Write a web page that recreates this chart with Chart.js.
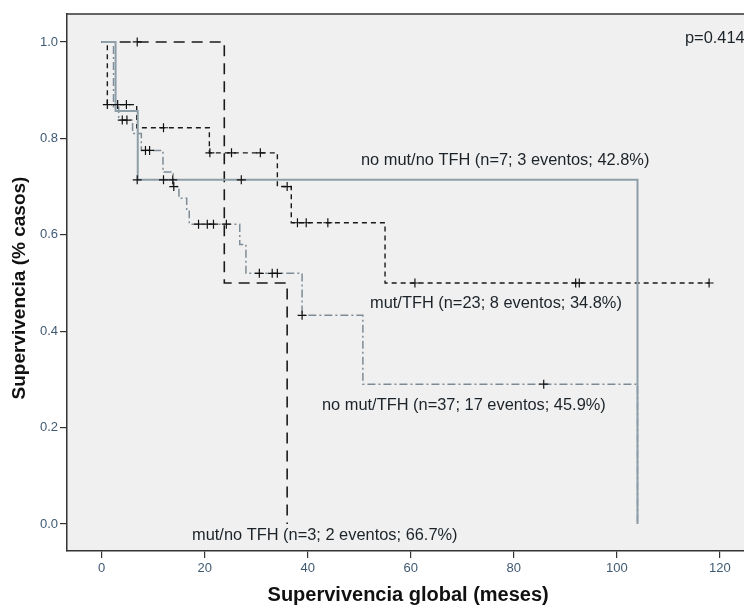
<!DOCTYPE html>
<html>
<head>
<meta charset="utf-8">
<script src="https://cdn.jsdelivr.net/npm/chart.js@4.4.0/dist/chart.umd.min.js"></script>
<style>
  html, body { margin: 0; padding: 0; background: #fff; overflow: hidden; }
  #wrap { width: 744px; height: 608px; overflow: hidden; }
</style>
</head>
<body>
<div id="wrap"><canvas id="km" width="755" height="608"></canvas></div>
<script>
// ticks
var xTicks = [0, 20, 40, 60, 80, 100, 120];
var yTicks = [0, 0.2, 0.4, 0.6, 0.8, 1.0];

// no mut/no TFH (linea continua)
var nmntT = [0, 2.7, 7, 104];
var nmntS = [1, 0.857, 0.714, 0];
var nmntCensT = [6.9, 12, 13.8, 27.1];
var nmntCensS = [0.714, 0.714, 0.714, 0.714];

// mut/no TFH (guion largo)
var mntT = [0, 23.8, 36];
var mntS = [1, 0.5, 0];
var mntCensT = [6.9];
var mntCensS = [1];

// mut/TFH (guion corto)
var mtT = [0, 1.1, 6.8, 20.9, 34.1, 36.8, 55, 117.9];
var mtS = [1, 0.87, 0.822, 0.77, 0.70, 0.625, 0.5, 0.5];
var mtCensT = [1.1, 3.1, 4.8, 12, 21, 25.2, 30.8, 36, 38, 39.7, 43.9, 60.8, 92, 92.7, 117.9];
var mtCensS = [0.87, 0.87, 0.87, 0.822, 0.77, 0.77, 0.77, 0.70, 0.625, 0.625, 0.625, 0.5, 0.5, 0.5, 0.5];

// no mut/TFH (guion-punto)
var nmtT = [0, 2.3, 3.3, 6, 7.7, 11.9, 13.9, 15, 16.5, 17, 26.8, 28, 38.9, 50.7, 104];
var nmtS = [1, 0.865, 0.838, 0.81, 0.775, 0.73, 0.70, 0.676, 0.649, 0.622, 0.58, 0.52, 0.433, 0.29, 0];
var nmtCensT = [4, 4.9, 8.5, 9.3, 14, 18.8, 20.5, 21.7, 24.2, 30.6, 33.1, 34.1, 38.9, 85.8];
var nmtCensS = [0.838, 0.838, 0.775, 0.775, 0.70, 0.622, 0.622, 0.622, 0.622, 0.52, 0.52, 0.52, 0.433, 0.29];

var groupLabels = [
  'no mut/no TFH (n=7; 3 eventos; 42.8%)',
  'mut/TFH (n=23; 8 eventos; 34.8%)',
  'no mut/TFH (n=37; 17 eventos; 45.9%)',
  'mut/no TFH (n=3; 2 eventos; 66.7%)'
];
var pText = 'p=0.414';
var yTitle = 'Supervivencia (% casos)';
var xTitle = 'Supervivencia global (meses)';

var FONT = '"Liberation Sans", Arial, sans-serif';

function pts(t, s) {
  return t.map(function (v, i) { return {x: v, y: s[i]}; });
}

function curve(t, s, color, width, dash) {
  return {
    type: 'line', data: pts(t, s), stepped: 'before',
    borderColor: color, borderWidth: width, borderDash: dash,
    pointRadius: 0, fill: false, order: 1
  };
}

function cens(t, s) {
  return {
    type: 'scatter', data: pts(t, s), showLine: false,
    pointStyle: 'cross', pointRadius: 4.5, pointBorderWidth: 1.2,
    borderColor: '#111', backgroundColor: '#111', order: 0
  };
}

// fondo gris y borde superior del area
var frame = {
  id: 'frame',
  beforeDraw: function (chart) {
    var a = chart.chartArea, ctx = chart.ctx;
    ctx.save();
    ctx.fillStyle = '#f0f0f0';
    ctx.fillRect(a.left, a.top, a.right - a.left, a.bottom - a.top);
    ctx.restore();
  },
  afterDraw: function (chart) {
    var a = chart.chartArea, ctx = chart.ctx;
    ctx.save();
    ctx.strokeStyle = '#333';
    ctx.lineWidth = 1.5;
    ctx.beginPath();
    ctx.moveTo(a.left, a.top);
    ctx.lineTo(a.right, a.top);
    ctx.stroke();
    // titulo eje y
    ctx.translate(20, 288);
    ctx.rotate(-Math.PI / 2);
    ctx.font = 'bold 19px ' + FONT;
    ctx.fillStyle = '#111';
    ctx.textAlign = 'center';
    ctx.textBaseline = 'middle';
    ctx.fillText(yTitle, 0, 0);
    ctx.restore();
  }
};

// etiquetas de cada grupo
var notes = {
  id: 'notes',
  afterDatasetsDraw: function (chart) {
    var ctx = chart.ctx;
    var spots = [[361, 160], [370, 303], [322, 405], [192, 535]];
    ctx.save();
    ctx.font = '16.4px ' + FONT;
    ctx.fillStyle = '#1c2329';
    ctx.textBaseline = 'middle';
    ctx.textAlign = 'left';
    groupLabels.forEach(function (txt, i) {
      ctx.fillText(txt, spots[i][0], spots[i][1]);
    });
    ctx.fillText(pText, 685, 38);
    ctx.restore();
  }
};

new Chart(document.getElementById('km'), {
  data: {
    datasets: [
      cens(nmntCensT, nmntCensS),
      cens(mntCensT, mntCensS),
      cens(mtCensT, mtCensS),
      cens(nmtCensT, nmtCensS),
      curve(nmntT, nmntS, '#8e9ea8', 2, []),
      curve(mntT, mntS, '#1a1a1a', 1.6, [11, 7]),
      curve(mtT, mtS, '#1a1a1a', 1.4, [5, 4]),
      curve(nmtT, nmtS, '#7d8c96', 1.5, [8, 3, 2, 3])
    ]
  },
  options: {
    responsive: false,
    animation: false,
    devicePixelRatio: 1,
    layout: {padding: {top: 14, left: 0, right: 0, bottom: 0}},
    plugins: {legend: {display: false}, tooltip: {enabled: false}},
    scales: {
      x: {
        type: 'linear', min: -6.73, max: 125.7,
        afterBuildTicks: function (s) { s.ticks = xTicks.map(function (v) { return {value: v}; }); },
        afterFit: function (s) { s.height = 57; },
        grid: {drawOnChartArea: false, tickLength: 7, color: '#333', lineWidth: 1.2},
        border: {display: true, color: '#333', width: 1.5},
        ticks: {padding: 3, color: '#3f5a73', font: {family: FONT, size: 13}},
        title: {display: true, text: xTitle, color: '#111',
                font: {family: FONT, size: 20, weight: 'bold'}, padding: {top: 0, bottom: 1}}
      },
      y: {
        type: 'linear', min: -0.056, max: 1.058,
        afterBuildTicks: function (s) { s.ticks = yTicks.map(function (v) { return {value: v}; }); },
        afterFit: function (s) { s.width = 67; },
        grid: {drawOnChartArea: false, tickLength: 7, color: '#333', lineWidth: 1.2},
        border: {display: true, color: '#333', width: 1.5},
        ticks: {padding: 2, color: '#3f5a73', font: {family: FONT, size: 13},
                callback: function (v) { return v.toFixed(1); }}
      }
    }
  },
  plugins: [frame, notes]
});
</script>
</body>
</html>
